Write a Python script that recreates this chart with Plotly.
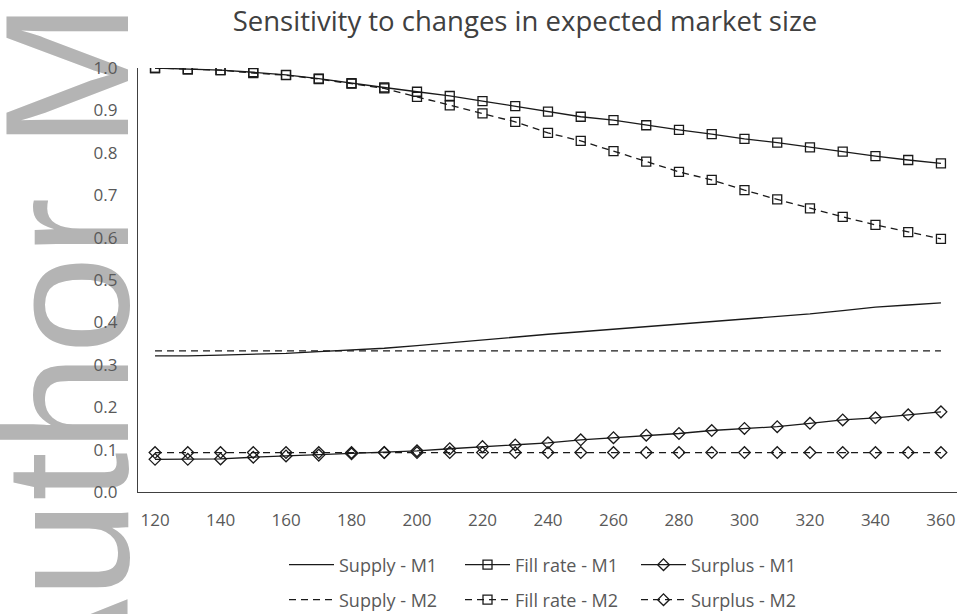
import plotly.graph_objects as go

# expected market size (x axis)
market_size = [120, 130, 140, 150, 160, 170, 180, 190, 200, 210, 220, 230, 240,
               250, 260, 270, 280, 290, 300, 310, 320, 330, 340, 350, 360]

supply_m1 = [0.321, 0.321, 0.323, 0.325, 0.327, 0.331, 0.335, 0.339, 0.345, 0.352,
             0.358, 0.366, 0.372, 0.378, 0.384, 0.390, 0.396, 0.402, 0.407, 0.414,
             0.420, 0.428, 0.436, 0.441, 0.446]
fill_m1 = [1.000, 0.997, 0.995, 0.990, 0.984, 0.975, 0.964, 0.954, 0.944, 0.934,
           0.922, 0.910, 0.897, 0.885, 0.877, 0.865, 0.854, 0.844, 0.833, 0.824,
           0.813, 0.803, 0.792, 0.783, 0.775]
surplus_m1 = [0.077, 0.077, 0.078, 0.082, 0.085, 0.087, 0.090, 0.093, 0.097, 0.102,
              0.107, 0.111, 0.116, 0.123, 0.128, 0.134, 0.138, 0.145, 0.150, 0.154,
              0.162, 0.170, 0.175, 0.182, 0.189]

supply_m2 = [0.333, 0.333, 0.333, 0.333, 0.333, 0.333, 0.333, 0.333, 0.333, 0.333,
             0.333, 0.333, 0.333, 0.333, 0.333, 0.333, 0.333, 0.333, 0.333, 0.333,
             0.333, 0.333, 0.333, 0.333, 0.333]
fill_m2 = [1.000, 0.997, 0.995, 0.988, 0.983, 0.974, 0.963, 0.952, 0.932, 0.912,
           0.893, 0.873, 0.847, 0.828, 0.804, 0.779, 0.755, 0.736, 0.712, 0.690,
           0.669, 0.649, 0.630, 0.613, 0.597]
surplus_m2 = [0.093, 0.093, 0.093, 0.093, 0.093, 0.093, 0.093, 0.093, 0.093, 0.093,
              0.093, 0.093, 0.093, 0.093, 0.093, 0.093, 0.093, 0.093, 0.093, 0.093,
              0.093, 0.093, 0.093, 0.093, 0.093]

y_ticks = [0.0, 0.1, 0.2, 0.3, 0.4, 0.5, 0.6, 0.7, 0.8, 0.9, 1.0]
x_ticks = [120, 140, 160, 180, 200, 220, 240, 260, 280, 300, 320, 340, 360]

FONT = "Open Sans"
INK = "#1a1a1a"
DASH = "7px,5px"

series = [
    ("Supply - M1", supply_m1, "lines", "solid", None, "legend"),
    ("Fill rate - M1", fill_m1, "lines+markers", "solid", "square-open", "legend"),
    ("Surplus - M1", surplus_m1, "lines+markers", "solid", "diamond-open", "legend"),
    ("Supply - M2", supply_m2, "lines", DASH, None, "legend2"),
    ("Fill rate - M2", fill_m2, "lines+markers", DASH, "square-open", "legend2"),
    ("Surplus - M2", surplus_m2, "lines+markers", DASH, "diamond-open", "legend2"),
]

fig = go.Figure()
for name, vals, mode, dash, symbol, leg in series:
    fig.add_trace(go.Scatter(
        x=market_size, y=vals, name=name, mode=mode, legend=leg,
        line=dict(color=INK, width=1.3, dash=dash),
        marker=dict(symbol=symbol or "circle", size=9, color=INK,
                    line=dict(color=INK, width=1.3)),
    ))

# "Author Manuscript" watermark, drawn under the axes
fig.add_shape(
    type="rect", xref="paper", yref="paper",
    x0=-0.114, x1=-0.102, y0=1.147, y1=1.164,
    line=dict(width=0), fillcolor="rgba(0,0,0,0)", layer="below",
    label=dict(text="Author Manuscript", textangle=-90, textposition="middle center",
               font=dict(family="Liberation Sans", size=176, color="#b4b4b4")),
)

leg_style = dict(orientation="h", xanchor="left", yanchor="middle",
                 itemwidth=45, entrywidth=116,
                 font=dict(family=FONT, size=18, color="#595959"),
                 bgcolor="rgba(0,0,0,0)")

fig.update_layout(
    width=959, height=614,
    paper_bgcolor="white", plot_bgcolor="white",
    margin=dict(l=138, r=2, t=68, b=122, autoexpand=False),
    title=dict(text="Sensitivity to changes in expected market size",
               x=525 / 959, xanchor="center", xref="container",
               y=1 - 21 / 614, yanchor="middle", yref="container",
               font=dict(family=FONT, size=27.5, color="#404040")),
    font=dict(family=FONT, color="#595959"),
    xaxis=dict(range=[114.8, 364.9], tickvals=x_ticks, showgrid=False, zeroline=False,
               showline=True, linecolor="#404040", linewidth=1.3, ticks="",
               ticklabelstandoff=12, tickfont=dict(size=17, color="#595959")),
    yaxis=dict(range=[0, 1], tickvals=y_ticks, tickformat=".1f", showgrid=False,
               zeroline=False, showline=True, linecolor="#404040", linewidth=1.3,
               ticks="", ticklabelstandoff=16, tickfont=dict(size=17, color="#595959")),
    legend=dict(leg_style, x=(284 - 138) / 819, y=(492 - 565) / 424),
    legend2=dict(leg_style, x=(284 - 138) / 819, y=(492 - 600) / 424),
)

fig.write_html("out.html", config={"displayModeBar": False},
               post_script="document.body.style.margin='0px';")
